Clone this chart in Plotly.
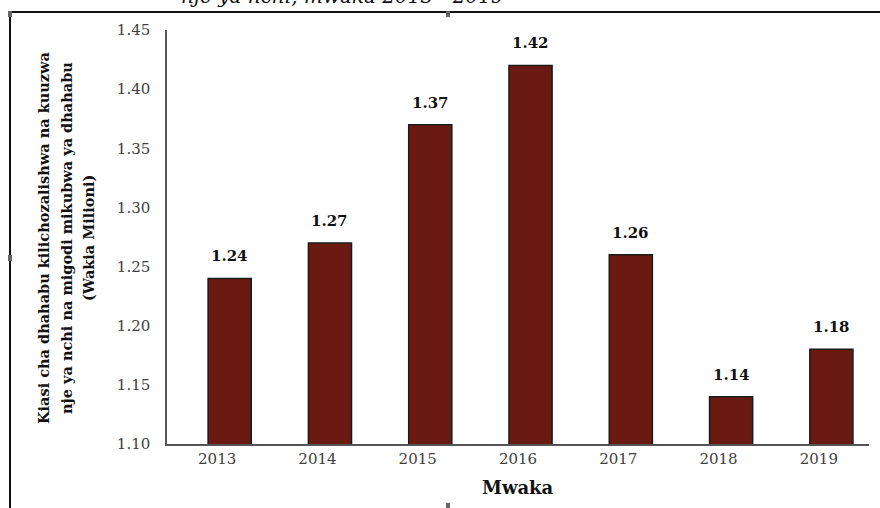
import plotly.graph_objects as go

years = ["2013", "2014", "2015", "2016", "2017", "2018", "2019"]
values = [1.24, 1.27, 1.37, 1.42, 1.26, 1.14, 1.18]
y_ticks = [1.10, 1.15, 1.20, 1.25, 1.30, 1.35, 1.40, 1.45]
y_tick_labels = ["1.10", "1.15", "1.20", "1.25", "1.30", "1.35", "1.40", "1.45"]
y_title_lines = ["Kiasi cha dhahabu kilichozalishwa na kuuzwa",
                 "nje ya nchi na migodi mikubwa ya dhahabu",
                 "(Wakia Milioni)"]

W, H = 880, 508
L, R, T, B = 167, 11, 30, 64
pw, ph = W - L - R, H - T - B

def px(x):
    return (x - L) / pw

def py(y):
    return (H - B - y) / ph

serif = "DejaVu Serif"
BAR_W = 0.43
BAR_SHIFT = 0.125

fig = go.Figure()
fig.add_trace(go.Bar(
    x=years, y=values, width=BAR_W, offset=-BAR_W / 2 + BAR_SHIFT,
    marker=dict(color="#6B1A11", line=dict(color="#1a1a1a", width=1.5)),
))

for i, v in enumerate(values):
    fig.add_annotation(x=i + BAR_SHIFT, y=v, text=f"<b>{v:.2f}</b>", showarrow=False,
                       yshift=22, xanchor="center", yanchor="middle",
                       font=dict(family=serif, size=15, color="#111111"))

# y title, three lines
for xc, line in zip([43, 66, 88], y_title_lines):
    fig.add_annotation(
        xref="paper", yref="paper", x=px(xc), y=py(238),
        text=f"<b>{line}</b>", textangle=-90, showarrow=False,
        xanchor="center", yanchor="middle",
        font=dict(family=serif, size=14.5, color="#111111"),
    )
# x title
fig.add_annotation(xref="paper", yref="paper", x=px(518), y=py(487),
                   text="<b>Mwaka</b>", showarrow=False, xanchor="center", yanchor="middle",
                   font=dict(family=serif, size=18, color="#111111"))
# cut-off top title
fig.add_annotation(xref="paper", yref="paper", x=px(342), y=py(-4),
                   text="<i>nje ya nchi, mwaka 2013 - 2019</i>", showarrow=False,
                   xanchor="center", yanchor="middle",
                   font=dict(family=serif, size=20, color="#111111"))

# frame lines
fig.add_shape(type="line", xref="paper", yref="paper", x0=px(10), x1=px(885), y0=py(12), y1=py(12),
              line=dict(color="#111111", width=2))
fig.add_shape(type="line", xref="paper", yref="paper", x0=px(10), x1=px(10), y0=py(12), y1=py(515),
              line=dict(color="#111111", width=2))
# small handles
for (hx, hy) in [(448, 14), (10, 258), (448, 506), (10, 14)]:
    fig.add_shape(type="rect", xref="paper", yref="paper", x0=px(hx - 2), x1=px(hx + 2),
                  y0=py(hy - 3), y1=py(hy + 3), line=dict(width=0), fillcolor="#666666")

fig.update_layout(
    width=W, height=H,
    margin=dict(l=L, r=R, t=T, b=B),
    paper_bgcolor="white", plot_bgcolor="white",
    showlegend=False,
    xaxis=dict(type="category", range=[-0.5, len(years) - 0.5], showline=True,
               linecolor="#555555", linewidth=1.5, ticks="",
               tickfont=dict(family=serif, size=15, color="#404040"), showgrid=False),
    yaxis=dict(range=[1.10, 1.45], tickvals=y_ticks, ticktext=y_tick_labels,
               showline=True, linecolor="#555555", linewidth=1.5, ticks="",
               ticklabelstandoff=12,
               tickfont=dict(family=serif, size=15, color="#404040"), showgrid=False,
               zeroline=False),
)

fig.write_html("out.html", config={"displayModeBar": False},
               post_script="document.body.style.margin='0';document.body.style.overflow='hidden';")
